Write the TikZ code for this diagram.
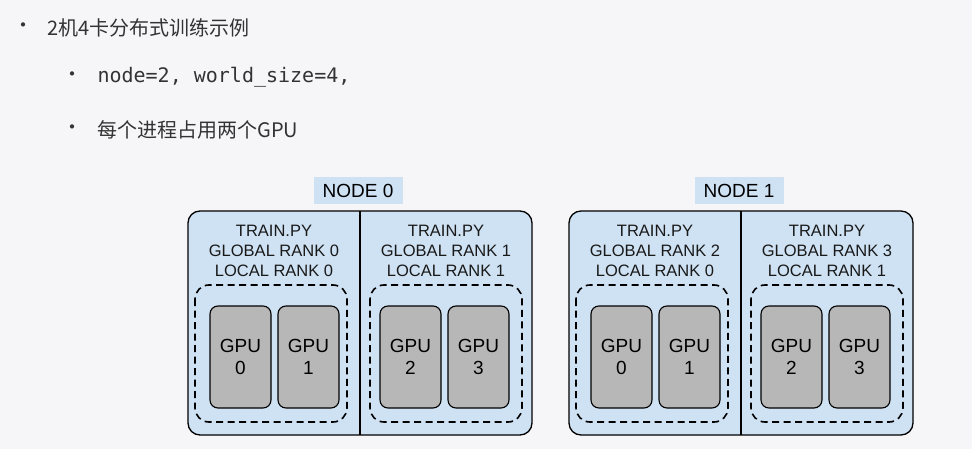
\documentclass[tikz,border=0pt]{standalone}
\usepackage{fontspec}
\setmainfont{Liberation Sans}
\newfontfamily\cjk{Noto Sans CJK SC}
\newfontfamily\mono{DejaVu Sans Mono}
\begin{document}
\begin{tikzpicture}[x=1pt,y=-1pt,
  outer/.style={draw=black,line width=1.3pt,fill=nodeblue,rounded corners=12pt},
  dashbox/.style={draw=black,line width=1.6pt,dash pattern=on 7pt off 4.5pt,rounded corners=14pt},
  gpu/.style={draw=black,line width=1.1pt,fill=gpugray,rounded corners=8pt,minimum width=61pt,minimum height=102pt,align=center,font=\fontsize{19}{22}\selectfont},
  lbl/.style={align=center,font=\fontsize{16.5}{20}\selectfont,text=black!90},
  ttl/.style={fill=nodeblue,font=\fontsize{19}{20}\selectfont,minimum width=89pt,minimum height=27pt,inner sep=0pt},
  bul/.style={anchor=west,font=\cjk\fontsize{20}{22}\selectfont,text=black!80}]
\definecolor{nodeblue}{HTML}{CFE2F3}
\definecolor{gpugray}{HTML}{B7B7B7}
\definecolor{bg}{HTML}{F6F6F8}
\fill[bg] (0,0) rectangle (972,449);
\useasboundingbox (0,0) rectangle (972,449);
\node[bul] (b1) at (10,28) {•};
\node[bul] (t1) at (44,28) {2机4卡分布式训练示例};
\node[bul] (b2) at (59,77) {•};
\node[bul,font=\mono\fontsize{20}{22}\selectfont] (t2) at (94,77) {node=2, world\_size=4,};
\node[bul] (b3) at (59,130) {•};
\node[bul] (t3) at (94,130) {每个进程占用两个GPU};
\foreach \n/\dx/\ga/\gb in {0/0/0/1, 1/381/2/3}{
  \begin{scope}[xshift=\dx]
  \node[ttl] (title\n) at (358,191) {NODE \n};
  \draw[outer] (188,211) rectangle (532,435);
  \draw[line width=1.3pt] (360,211) -- (360,435);
  \node[lbl] (pa\n) at (274,251) {TRAIN.PY\\GLOBAL RANK \ga\\LOCAL RANK 0};
  \node[lbl] (pb\n) at (446,251) {TRAIN.PY\\GLOBAL RANK \gb\\LOCAL RANK 1};
  \draw[dashbox] (195,285) rectangle (347,422);
  \draw[dashbox] (370,285) rectangle (522,422);
  \node[gpu] (g\n a) at (240.5,357) {GPU\\0};
  \node[gpu] (g\n b) at (308.5,357) {GPU\\1};
  \node[gpu] (g\n c) at (410.5,357) {GPU\\2};
  \node[gpu] (g\n d) at (478.5,357) {GPU\\3};
  \end{scope}}
\end{tikzpicture}
\end{document}
